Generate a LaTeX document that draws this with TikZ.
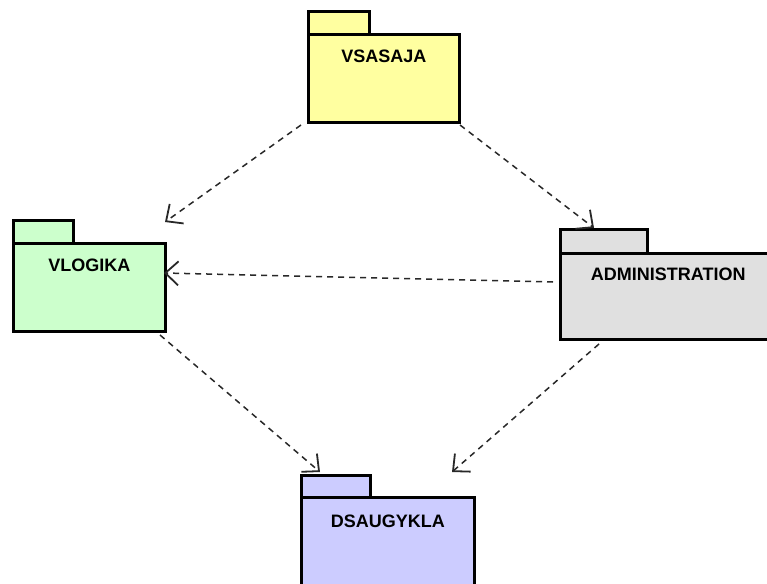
\documentclass[tikz,border=0pt]{standalone}
\usepackage{fontspec}
\setmainfont{Liberation Sans}
\usetikzlibrary{arrows.meta}
\definecolor{pkgyellow}{RGB}{255,255,160}
\definecolor{pkggreen}{RGB}{204,255,204}
\definecolor{pkggray}{RGB}{224,224,224}
\definecolor{pkgblue}{RGB}{204,204,255}
\definecolor{depcol}{RGB}{40,40,40}
\begin{document}
\begin{tikzpicture}[x=1pt,y=-1pt,
  pkgbody/.style={draw=black, line width=2.6pt, anchor=north west, inner sep=0pt,
    text height=28pt, font=\bfseries\fontsize{18}{20}\selectfont, align=center},
  pkgtab/.style={draw=black, line width=2.6pt, anchor=north west, inner sep=0pt},
  dep/.style={draw=depcol, line width=1.5pt, dash pattern=on 6pt off 5pt,
    -{Straight Barb[length=13pt,width=24pt,line width=1.8pt]}}]
\useasboundingbox (0,0) rectangle (767,583);
\clip (0,0) rectangle (767,583);

% VSASAJA
\node[pkgtab, fill=pkgyellow, minimum width=61pt, minimum height=23pt] (vstab) at (307,10) {};
\node[pkgbody, fill=pkgyellow, minimum width=151pt, text depth=60pt] (vs) at (307,33) {VSASAJA};

% VLOGIKA
\node[pkgtab, fill=pkggreen, minimum width=60pt, minimum height=23pt] (vltab) at (12,219) {};
\node[pkgbody, fill=pkggreen, minimum width=152pt, text depth=60pt] (vl) at (12,242) {VLOGIKA};

% ADMINISTRATION
\node[pkgtab, fill=pkggray, minimum width=87pt, minimum height=24pt] (adtab) at (559,228) {};
\node[pkgbody, fill=pkggray, minimum width=216pt, text height=27pt, text depth=59pt] (ad) at (559,252) {ADMINISTRATION};

% DSAUGYKLA
\node[pkgtab, fill=pkgblue, minimum width=69pt, minimum height=22pt] (dstab) at (300,474) {};
\node[pkgbody, fill=pkgblue, minimum width=173pt, text height=30pt, text depth=58pt] (ds) at (300,496) {DSAUGYKLA};

% connector end points
\coordinate (vs-l) at (301,125);
\coordinate (vs-r) at (460,125);
\coordinate (vl-t) at (165,222);
\coordinate (vl-r) at (164,273);
\coordinate (vl-b) at (160,335);
\coordinate (ad-t) at (594,228);
\coordinate (ad-l) at (553,282);
\coordinate (ad-b) at (599,344);
\coordinate (ds-l) at (320,472);
\coordinate (ds-r) at (452,472);

\draw[dep] (vs-l) -- (vl-t);
\draw[dep] (vs-r) -- (ad-t);
\draw[dep] (ad-l) -- (vl-r);
\draw[dep] (vl-b) -- (ds-l);
\draw[dep] (ad-b) -- (ds-r);
\end{tikzpicture}
\end{document}
